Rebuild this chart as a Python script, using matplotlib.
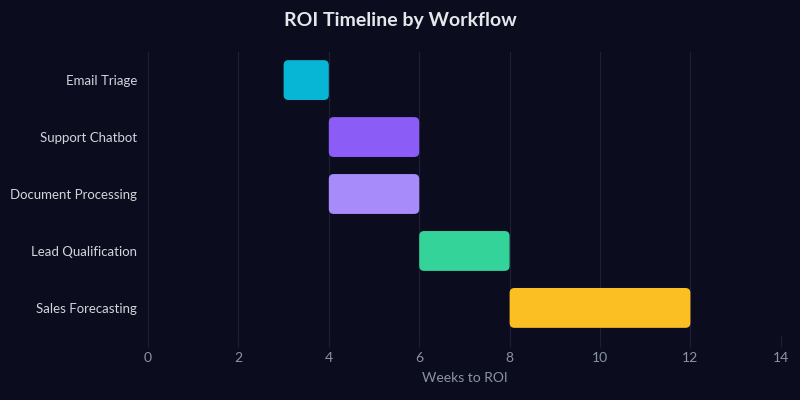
import matplotlib
matplotlib.use("Agg")
import matplotlib.pyplot as plt
from matplotlib.patches import FancyBboxPatch

workflows = ["Email Triage", "Support Chatbot", "Document Processing", "Lead Qualification", "Sales Forecasting"]
start_week = [3, 4, 4, 6, 8]
end_week = [4, 6, 6, 8, 12]
colors = ["#06b6d4", "#8b5cf6", "#a78bfa", "#34d399", "#fbbf24"]
xticks = [0, 2, 4, 6, 8, 10, 12, 14]

plt.rcParams['font.family'] = ['Lato', 'DejaVu Sans']
BG = "#0b0d1f"
GRID = "#1e2136"

fig = plt.figure(figsize=(8, 4), dpi=100, facecolor=BG)
ax = fig.add_axes([0.185, 0.159, 0.791, 0.712], facecolor=BG)

ypos = list(range(len(workflows)))
widths = [e - s for s, e in zip(start_week, end_week)]
bars = ax.barh(ypos, widths, left=start_week, height=0.7, color=colors)
ax.set_xlim(0, 14)
ax.set_ylim(len(workflows) - 0.5, -0.5)

xpp = 14 / (0.791 * 800)
ypp = 5 / (0.712 * 400)
for b, c in zip(bars, colors):
    x, y = b.get_x(), b.get_y()
    w, h = b.get_width(), b.get_height()
    b.set_visible(False)
    p = FancyBboxPatch((x, y), w, h,
                       boxstyle=f"round,pad=0,rounding_size={5 * xpp}",
                       mutation_aspect=ypp / xpp,
                       facecolor=c, edgecolor="none", zorder=3)
    ax.add_patch(p)

ax.set_xticks(xticks)
ax.set_yticks(ypos)
ax.set_yticklabels(workflows)
ax.grid(axis='x', color=GRID, linewidth=0.8, zorder=0)
ax.grid(axis='y', visible=False)
for s in ax.spines.values():
    s.set_visible(False)
ax.tick_params(axis='x', colors=GRID, length=8, width=0.8, labelcolor="#8b93a7", labelsize=10, pad=3)
ax.tick_params(axis='y', length=0, labelcolor="#d1d5db", labelsize=9.5, pad=8)
ax.set_xlabel("Weeks to ROI", color="#8b93a7", fontsize=10, labelpad=6)
fig.text(0.5, 0.948, "ROI Timeline by Workflow", ha='center', va='center',
         color="#e5e7eb", fontsize=14, fontweight='bold')

fig.savefig("out.png", dpi=100, facecolor=BG)
